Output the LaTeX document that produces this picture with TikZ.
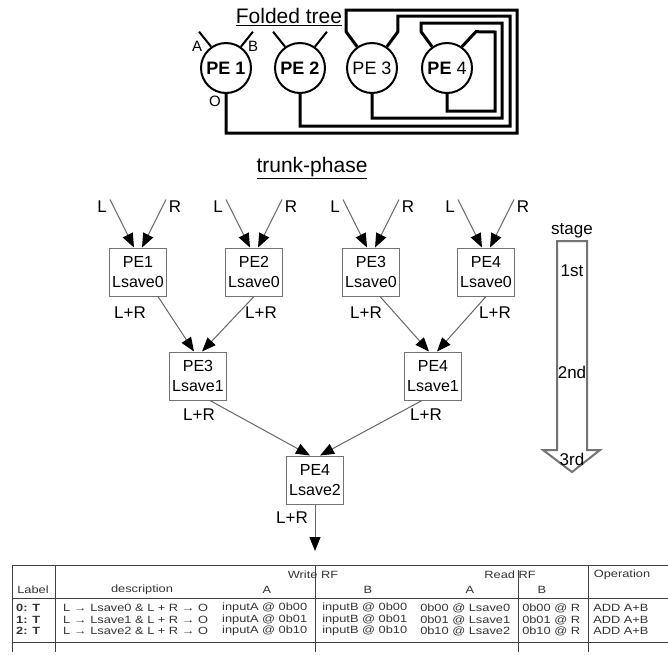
\documentclass[tikz,border=0pt]{standalone}
\usepackage{fontspec}
\setmainfont{Liberation Sans}
\usetikzlibrary{arrows.meta}

\tikzset{
  title/.style={font=\fontsize{21}{24}\selectfont,inner sep=0pt},
  pe/.style={circle,draw,line width=2pt,minimum size=50pt,inner sep=0pt,font=\fontsize{18}{20}\selectfont},
  wire/.style={line width=3pt},
  stub/.style={line width=2pt},
  port/.style={font=\fontsize{15}{16}\selectfont,inner sep=0pt},
  pebox/.style={draw=black!55,line width=1pt,minimum width=57pt,minimum height=48pt,inner sep=1pt,align=center,font=\fontsize{16}{20}\selectfont},
  flow/.style={draw=black!60,line width=1pt,-{Triangle[length=14pt,width=11pt,color=black]}},
  lbl/.style={font=\fontsize{17}{19}\selectfont,inner sep=0pt},
  tab/.style={font=\fontsize{10.5}{11}\selectfont,text=black!80,inner sep=0pt,xscale=1.22,transform shape},
  rule/.style={black!75,line width=1pt}
}

\begin{document}
\begin{tikzpicture}[x=1pt,y=-1pt]
  \useasboundingbox (0,0) rectangle (668,654);
  % folded tree
  \node[title] (ft) at (289,17) {\underline{Folded tree}};
  \node[pe] (p1) at (226,68) {\textbf{PE 1}};
  \node[pe] (p2) at (300,68) {\textbf{PE 2}};
  \node[pe] (p3) at (372,68) {PE 3};
  \node[pe] (p4) at (447,68) {\textbf{PE} 4};
  \coordinate (a1) at ([shift={(-12,-15)}]p1.125);
  \coordinate (b1) at ([shift={(12,-15)}]p1.55);
  \coordinate (a2) at ([shift={(-12,-15)}]p2.125);
  \coordinate (b2) at ([shift={(12,-15)}]p2.55);
  \coordinate (a3) at ([shift={(-11,-15)}]p3.125);
  \coordinate (b3) at ([shift={(11,-15)}]p3.55);
  \coordinate (a4) at ([shift={(-11,-15)}]p4.125);
  \coordinate (b4) at ([shift={(14,-15)}]p4.55);
  \draw[stub] (p1.125) -- (a1) (p1.55) -- (b1);
  \draw[stub] (p2.125) -- (a2) (p2.55) -- (b2);
  \node[port] (pa) at (197,46) {A};
  \node[port] (pb) at (253,46) {B};
  \node[port] (po) at (215,101) {O};
  % feedback wires
  \draw[wire] (p1.south) |- (517,133) -- (517,10) -| (a3) -- (p3.125);
  \draw[wire] (p2.south) |- (510,126) -- (510,16) -| (b3) -- (p3.55);
  \draw[wire] (p3.south) |- (502,118) -- (502,23) -| (a4) -- (p4.125);
  \draw[wire] (p4.south) |- (495,111) -- (495,32) -- (b4) -- (p4.55);

  % trunk-phase
  \node[title] (tp) at (312,168) {\underline{trunk-phase}};
  \node[pebox] (t1) at (138,272) {PE1\\Lsave0};
  \node[pebox] (t2) at (254,272) {PE2\\Lsave0};
  \node[pebox] (t3) at (371,272) {PE3\\Lsave0};
  \node[pebox] (t4) at (486,272) {PE4\\Lsave0};
  \node[pebox] (s3) at (198,376) {PE3\\Lsave1};
  \node[pebox] (s4) at (433,376) {PE4\\Lsave1};
  \node[pebox] (r4) at (315,480) {PE4\\Lsave2};
  \foreach \b in {t1,t2,t3,t4}{
    \coordinate (\b-l) at ([shift={(-28,-48)}]\b.north);
    \coordinate (\b-r) at ([shift={(28,-48)}]\b.north);
    \node[lbl] (\b-lt) at ([shift={(-36,-41)}]\b.north) {L};
    \node[lbl] (\b-rt) at ([shift={(37,-41)}]\b.north) {R};
    \draw[flow] (\b-l) -- ([xshift=-4pt]\b.north);
    \draw[flow] (\b-r) -- ([xshift=4pt]\b.north);
  }
  \draw[flow] ([xshift=20pt]t1.south) -- ([xshift=-4pt]s3.north);
  \draw[flow] (t2.south) -- ([xshift=4pt]s3.north);
  \draw[flow] ([xshift=9pt]t3.south) -- ([xshift=-4pt]s4.north);
  \draw[flow] (t4.south) -- ([xshift=4pt]s4.north);
  \draw[flow] ([xshift=12pt]s3.south) -- ([xshift=-5pt]r4.north);
  \draw[flow] ([xshift=-11pt]s4.south) -- ([xshift=5pt]r4.north);
  \coordinate (out) at (315,551);
  \draw[flow] (r4.south) -- (out);
  \node[lbl] (sum1) at (130,313) {L+R};
  \node[lbl] (sum2) at (261,313) {L+R};
  \node[lbl] (sum3) at (366,313) {L+R};
  \node[lbl] (sum4) at (495,313) {L+R};
  \node[lbl] (sum5) at (199,415) {L+R};
  \node[lbl] (sum6) at (426,415) {L+R};
  \node[lbl] (sum7) at (292,518) {L+R};

  % stage arrow
  \draw[black!55,line width=2pt] (557,241) -- (587,241) -- (587,450) -- (600,450)
    -- (572,472) -- (543,450) -- (557,450) -- cycle;
  \node[lbl] (st) at (572,231) {stage};
  \node[lbl] (st1) at (572,271) {1st};
  \node[lbl] (st2) at (572,372) {2nd};
  \node[lbl] (st3) at (572,459) {3rd};

  % table
  \draw[rule] (12,565) -- (668,565);
  \draw[rule] (12,598) -- (668,598);
  \draw[rule] (12,642) -- (668,642);
  \draw[rule] (12,565) -- (12,652);
  \draw[rule] (55,565) -- (55,652);
  \draw[rule] (315,565) -- (315,652);
  \draw[rule] (518,570) -- (518,652);
  \draw[rule] (588,565) -- (588,652);
  \node[tab] (hw) at (313,575) {Write RF};
  \node[tab] (hr) at (510,575) {Read RF};
  \node[tab] (ho) at (622,575) {Operation};
  \node[tab] (hl) at (33,590) {Label};
  \node[tab] (hd) at (142,590) {description};
  \node[tab] (hwa) at (267,590) {A};
  \node[tab] (hwb) at (368,590) {B};
  \node[tab] (hra) at (470,590) {A};
  \node[tab] (hrb) at (542,590) {B};
  % rows
  \node[tab,anchor=west] (l0) at (16,608) {\textbf{0: T}};
  \node[tab,anchor=west] (d0) at (63,608) {L → Lsave0 \& L + R → O};
  \node[tab,anchor=west] (wa0) at (222,608) {inputA @ 0b00};
  \node[tab,anchor=west] (wb0) at (322,608) {inputB @ 0b00};
  \node[tab,anchor=west] (ra0) at (420,608) {0b00 @ Lsave0};
  \node[tab,anchor=west] (rb0) at (522,608) {0b00 @ R};
  \node[tab,anchor=west] (op0) at (593,608) {ADD A+B};
  \node[tab,anchor=west] (l1) at (16,620) {\textbf{1: T}};
  \node[tab,anchor=west] (d1) at (63,620) {L → Lsave1 \& L + R → O};
  \node[tab,anchor=west] (wa1) at (222,620) {inputA @ 0b01};
  \node[tab,anchor=west] (wb1) at (322,620) {inputB @ 0b01};
  \node[tab,anchor=west] (ra1) at (420,620) {0b01 @ Lsave1};
  \node[tab,anchor=west] (rb1) at (522,620) {0b01 @ R};
  \node[tab,anchor=west] (op1) at (593,620) {ADD A+B};
  \node[tab,anchor=west] (l2) at (16,631) {\textbf{2: T}};
  \node[tab,anchor=west] (d2) at (63,631) {L → Lsave2 \& L + R → O};
  \node[tab,anchor=west] (wa2) at (222,631) {inputA @ 0b10};
  \node[tab,anchor=west] (wb2) at (322,631) {inputB @ 0b10};
  \node[tab,anchor=west] (ra2) at (420,631) {0b10 @ Lsave2};
  \node[tab,anchor=west] (rb2) at (522,631) {0b10 @ R};
  \node[tab,anchor=west] (op2) at (593,631) {ADD A+B};
\end{tikzpicture}
\end{document}
